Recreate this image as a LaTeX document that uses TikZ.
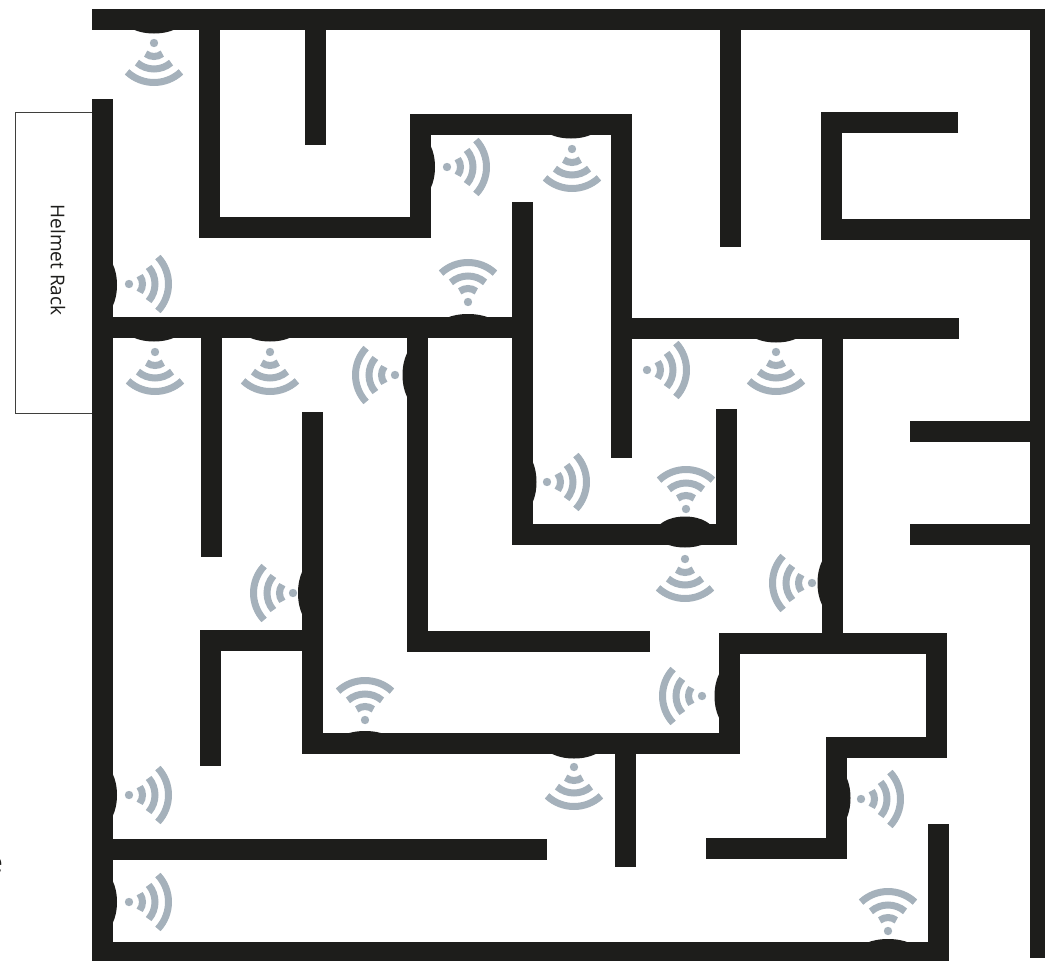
\documentclass[tikz,border=0pt]{standalone}
\usepackage{fontspec}
\setmainfont{Open Sans}
\definecolor{wallc}{HTML}{1D1D1B}
\definecolor{wific}{HTML}{A5B1BB}
\tikzset{
  wall/.style={draw=wallc,line width=21pt,line cap=butt,line join=miter},
  wave/.style={draw=wific,line width=7pt,line cap=butt},
  bump/.style={fill=wallc,draw=none},
  rack/.style={draw=wallc!85,line width=0.8pt,fill=white},
}
\newcommand{\sensorbump}[4]{%
  \begin{scope}[x=1pt,y=1pt,shift={(#1pt,-#2pt)},rotate=#3]
    \fill[bump] (0,-30) arc[start angle=-90,end angle=90,x radius=#4,y radius=30] -- cycle;
  \end{scope}}
\newcommand{\sensorwaves}[3]{%
  \begin{scope}[x=1pt,y=1pt,shift={(#1pt,-#2pt)},rotate=#3]
    \fill[wific] (0,0) circle (4.2pt);
    \draw[wave] (-38:13.5) arc[start angle=-38,end angle=38,radius=13.5];
    \draw[wave] (-41:26) arc[start angle=-41,end angle=41,radius=26];
    \draw[wave] (-43:39.5) arc[start angle=-43,end angle=43,radius=39.5];
  \end{scope}}
\begin{document}
\begin{tikzpicture}[x=1pt,y=-1pt]
\useasboundingbox (0,0) rectangle (1045,961);
% rack
\node[rack,minimum width=77pt,minimum height=301pt,anchor=north west,inner sep=0pt,outer sep=0pt] (helmetrack) at (15,112) {};
\node[rotate=-90,font=\fontsize{19}{22}\selectfont,text=wallc] (racklabel) at (58,260) {Helmet Rack};
\node[anchor=base east,font=\fontsize{28}{30}\selectfont,text=wallc,inner sep=0pt] (cutletter) at (3,872) {e};
% bumps (walls' thickening on the sensor side)
\foreach \x/\y/\a/\r in {154/19/270/14.5, 571/124/270/14.5, 154/327/270/14.5, 270/327/270/14.5, 776/328/270/14.5, 685/532/270/15.5, 574/744/270/14.5,
  468/327/90/13, 685/534/90/17.5, 365/744/90/13, 888/952/90/13,
  102/285/0/15, 420/167/0/15, 522/482/0/14.5, 102/795/0/15, 102/902/0/15, 836/798/0/14.5,
  417/375/180/14.5, 312/593/180/14, 832/583/180/14.5, 729/696/180/14.5}
  {\sensorbump{\x}{\y}{\a}{\r}}
% walls
\draw[wall] (92,19) -- (1045,19);
\draw[wall] (1040,19) -- (1040,958);
\draw[wall] (102.5,99) -- (102.5,961);
\draw[wall] (92,952) -- (949,952);
\draw[wall] (209.5,19) -- (209.5,227.5) -- (420.5,227.5) -- (420.5,124) -- (621.5,124) -- (621.5,458);
\draw[wall] (315.5,19) -- (315.5,145);
\draw[wall] (730.5,19) -- (730.5,247);
\draw[wall] (958,122.5) -- (831.5,122.5) -- (831.5,229.5) -- (1040,229.5);
\draw[wall] (102,327.5) -- (522,327.5);
\draw[wall] (522.5,202) -- (522.5,534.5) -- (726.5,534.5) -- (726.5,409);
\draw[wall] (611,328.5) -- (959,328.5);
\draw[wall] (832.5,328) -- (832.5,643);
\draw[wall] (312.5,412) -- (312.5,743.5) -- (729.5,743.5) -- (729.5,643.5) -- (936.5,643.5) -- (936.5,747) -- (836.5,747) -- (836.5,848.5) -- (706,848.5);
\draw[wall] (211.5,327) -- (211.5,557);
\draw[wall] (417.5,327) -- (417.5,641.5) -- (650,641.5);
\draw[wall] (312,640.5) -- (210.5,640.5) -- (210.5,766);
\draw[wall] (625.5,744) -- (625.5,867);
\draw[wall] (102,849.5) -- (547,849.5);
\draw[wall] (938.5,824) -- (938.5,952);
\draw[wall] (910,431) -- (1040,431);
\draw[wall] (910,534.5) -- (1040,534.5);
% sensors
\foreach \x/\y/\a in {154/43/270, 572/149/270, 155/352/270, 270/352/270, 776/352/270, 685/559/270, 574/767/270,
  468/302/90, 686/509/90, 365/720/90, 888/931/90,
  129/284/0, 447/167/0, 647/370/0, 547/482/0, 129/795/0, 129/902/0, 861/799/0,
  395/375/180, 293/593/180, 812/583/180, 702/696/180}
  {\sensorwaves{\x}{\y}{\a}}
\end{tikzpicture}
\end{document}
